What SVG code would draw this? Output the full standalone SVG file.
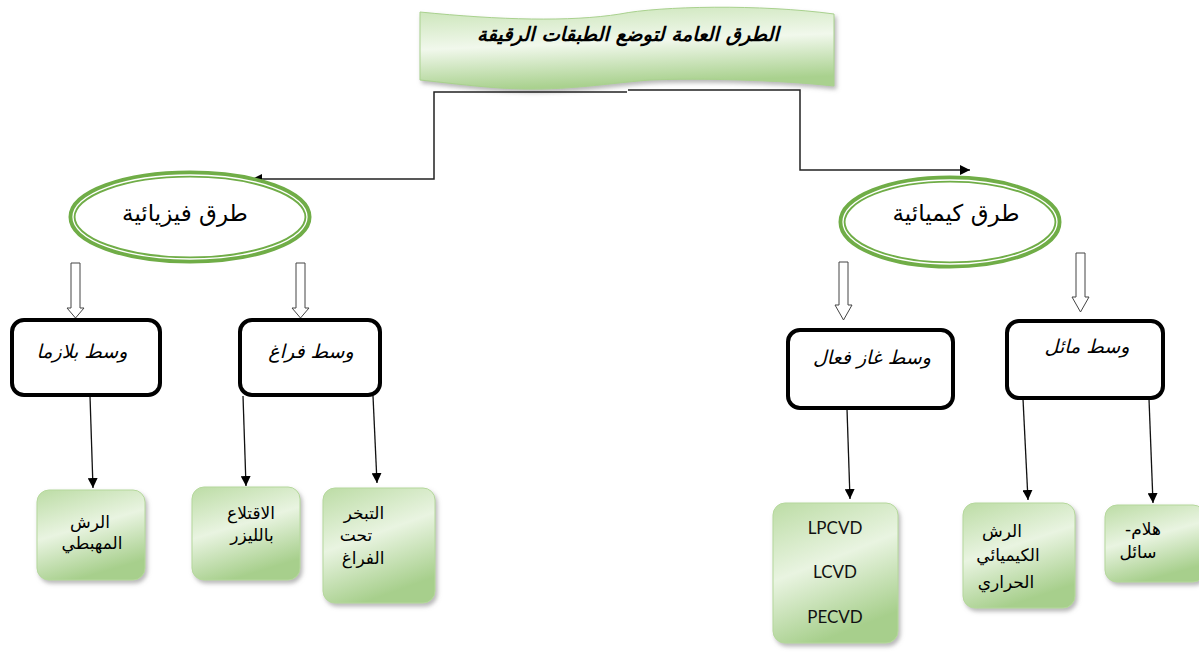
<svg xmlns="http://www.w3.org/2000/svg" width="1199" height="655" viewBox="0 0 1199 655">
  <style>
    .ar { font-family: 'DejaVu Sans', 'Noto Sans', sans-serif; fill: #000; }
    .title { font-size: 19.5px; font-weight: bold; font-style: italic; }
    .oval-label { font-size: 23px; }
    .box-label { font-size: 19px; font-style: italic; }
    .leaf-label { font-size: 17px; }
    .latin { font-family: Lato, 'Open Sans', sans-serif; font-size: 17px; fill: #111; }
    .black-box { fill: #fff; stroke: #000; stroke-width: 4; }
    .leaf { fill: url(#leafGrad); stroke: #b5d89c; stroke-width: 1; filter: url(#shadow); }
    .oval-outer { fill: #fff; stroke: #70ad47; stroke-width: 7; }
    .oval-inner { fill: none; stroke: #fff; stroke-width: 1.3; }
    .wire { fill: none; stroke: #222; stroke-width: 1.5; }
    .thin { fill: none; stroke: #111; stroke-width: 1.3; }
    .hollow { fill: #fff; stroke: #444; stroke-width: 1; }
  </style>
  <defs>
    <linearGradient id="leafGrad" x1="0" y1="0" x2="0.35" y2="1">
      <stop offset="0" stop-color="#bcdca5"/>
      <stop offset="0.5" stop-color="#e9f4e1"/>
      <stop offset="1" stop-color="#a7cf8c"/>
    </linearGradient>
    <linearGradient id="bannerGrad" x1="0" y1="0" x2="0.2" y2="1">
      <stop offset="0" stop-color="#c9e4b6"/>
      <stop offset="0.5" stop-color="#f1f8ec"/>
      <stop offset="1" stop-color="#a9d18e"/>
    </linearGradient>
    <filter id="shadow" x="-10%" y="-10%" width="125%" height="125%">
      <feDropShadow dx="2" dy="3" stdDeviation="2" flood-color="#888" flood-opacity="0.6"/>
    </filter>
    <marker id="tri" viewBox="0 0 10 10" refX="10" refY="5" markerWidth="10" markerHeight="10" markerUnits="userSpaceOnUse" orient="auto">
      <path d="M0,0 L10,5 L0,10 Z" fill="#000"/>
    </marker>
  </defs>

  <rect width="1199" height="655" fill="#fff"/>

  <!-- title banner -->
  <g id="title">
    <path d="M420,12 C500,20 570,22 620,14 C660,6 760,4 834,14 L834,86 C780,80 700,78 650,80 C600,84 560,92 500,88 C470,86 440,82 420,80 Z" fill="url(#bannerGrad)" stroke="#a9d18e" stroke-width="1" filter="url(#shadow)"/>
    <text class="ar title" x="628" y="41" text-anchor="middle">الطرق العامة لتوضع الطبقات الرقيقة</text>
  </g>

  <!-- connectors -->
  <g id="connectors">
    <polyline class="wire" points="627,92 434,92 434,179 252,179" marker-end="url(#tri)"/>
    <polyline class="wire" points="628,90 800,90 800,170 970,170" marker-end="url(#tri)"/>

    <!-- hollow block arrows -->
    <path class="hollow" d="M71,263 H80 V308 H84 L75.5,318 L67,308 H71 Z"/>
    <path class="hollow" d="M296,263 H305 V308 H309 L300.5,318 L292,308 H296 Z"/>
    <path class="hollow" d="M839,262 H848 V305 H852 L843.5,320 L835,305 H839 Z"/>
    <path class="hollow" d="M1076,253 H1085 V297 H1089 L1080.5,312 L1072,297 H1076 Z"/>

    <line class="thin" x1="90" y1="396" x2="93" y2="488" marker-end="url(#tri)"/>
    <line class="thin" x1="243" y1="396" x2="246" y2="486" marker-end="url(#tri)"/>
    <line class="thin" x1="373" y1="396" x2="377" y2="483" marker-end="url(#tri)"/>
    <line class="thin" x1="847" y1="409" x2="850" y2="499" marker-end="url(#tri)"/>
    <line class="thin" x1="1023" y1="399" x2="1028" y2="500" marker-end="url(#tri)"/>
    <line class="thin" x1="1149" y1="399" x2="1153" y2="503" marker-end="url(#tri)"/>
  </g>

  <!-- level 1: method families -->
  <g id="physical">
    <ellipse class="oval-outer" cx="190" cy="217" rx="118" ry="43"/>
    <ellipse class="oval-inner" cx="190" cy="217" rx="117" ry="42"/>
    <text class="ar oval-label" x="185" y="221" text-anchor="middle">طرق فيزيائية</text>
  </g>
  <g id="chemical">
    <ellipse class="oval-outer" cx="950" cy="222" rx="108" ry="43"/>
    <ellipse class="oval-inner" cx="950" cy="222" rx="107" ry="42"/>
    <text class="ar oval-label" x="956" y="221" text-anchor="middle">طرق كيميائية</text>
  </g>

  <!-- level 2: media -->
  <g id="plasma">
    <rect class="black-box" x="12" y="320" width="148" height="75" rx="12"/>
    <text class="ar box-label" x="82" y="358" text-anchor="middle">وسط بلازما</text>
  </g>
  <g id="vacuum">
    <rect class="black-box" x="240" y="320" width="140" height="75" rx="12"/>
    <text class="ar box-label" x="311" y="358" text-anchor="middle">وسط فراغ</text>
  </g>
  <g id="active-gas">
    <rect class="black-box" x="788" y="330" width="165" height="78" rx="12"/>
    <text class="ar box-label" x="872" y="364" text-anchor="middle">وسط غاز فعال</text>
  </g>
  <g id="liquid">
    <rect class="black-box" x="1007" y="321" width="156" height="77" rx="12"/>
    <text class="ar box-label" x="1087" y="353" text-anchor="middle">وسط مائل</text>
  </g>

  <!-- level 3: techniques -->
  <g id="sputtering">
    <rect class="leaf" x="37" y="490" width="108" height="90" rx="12"/>
    <text class="ar leaf-label" x="90" y="528" text-anchor="middle">الرش</text>
    <text class="ar leaf-label" x="92" y="549" text-anchor="middle">المهبطي</text>
  </g>
  <g id="laser-ablation">
    <rect class="leaf" x="192" y="487" width="108" height="93" rx="12"/>
    <text class="ar leaf-label" x="251" y="519" text-anchor="middle">الاقتلاع</text>
    <text class="ar leaf-label" x="252" y="541" text-anchor="middle">بالليزر</text>
  </g>
  <g id="evaporation">
    <rect class="leaf" x="323" y="488" width="112" height="115" rx="12"/>
    <text class="ar leaf-label" x="364" y="519" text-anchor="middle">التبخر</text>
    <text class="ar leaf-label" x="356" y="541" text-anchor="middle">تحت</text>
    <text class="ar leaf-label" x="363" y="564" text-anchor="middle">الفراغ</text>
  </g>
  <g id="cvd">
    <rect class="leaf" x="773" y="503" width="125" height="140" rx="12"/>
    <text class="latin" x="835" y="534" text-anchor="middle">LPCVD</text>
    <text class="latin" x="835" y="578" text-anchor="middle">LCVD</text>
    <text class="latin" x="835" y="623" text-anchor="middle">PECVD</text>
  </g>
  <g id="spray-pyrolysis">
    <rect class="leaf" x="963" y="503" width="112" height="105" rx="12"/>
    <text class="ar leaf-label" x="1002" y="537" text-anchor="middle">الرش</text>
    <text class="ar leaf-label" x="1008" y="561" text-anchor="middle">الكيميائي</text>
    <text class="ar leaf-label" x="1006" y="588" text-anchor="middle">الحراري</text>
  </g>
  <g id="sol-gel">
    <rect class="leaf" x="1105" y="505" width="100" height="77" rx="12"/>
    <text class="ar leaf-label" x="1143" y="535" text-anchor="middle">هلام-&#x200F;</text>
    <text class="ar leaf-label" x="1138" y="558" text-anchor="middle">سائل</text>
  </g>
</svg>
